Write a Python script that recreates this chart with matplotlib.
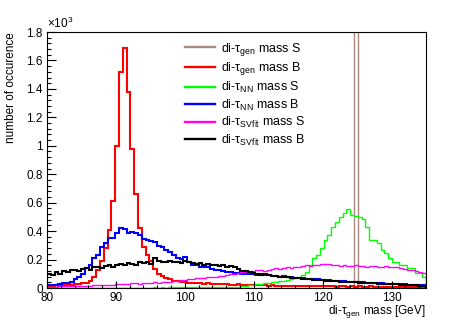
import numpy as np
import matplotlib
matplotlib.use('Agg')
import matplotlib.pyplot as plt
from matplotlib.ticker import MultipleLocator, FuncFormatter

plt.rcParams['font.family'] = ['Liberation Sans', 'DejaVu Sans']
plt.rcParams['mathtext.fontset'] = 'custom'
plt.rcParams['mathtext.rm'] = 'Liberation Sans'
plt.rcParams['mathtext.it'] = 'Liberation Sans:italic'

# binning of the di-tau mass histograms [GeV]
mass_lo, mass_hi, n_bins = 80, 135, 100
edges = np.linspace(mass_lo, mass_hi, n_bins + 1)

# generator level signal: everything in one bin at 125 GeV (goes off scale)
gen_S = [0] * 81 + [20000] + [0] * 18

gen_B = [15, 16, 18, 17, 20, 22, 24, 26, 28, 32,
         38, 48, 75, 125, 190, 280, 410, 610, 1000, 1520,
         1687, 1380, 980, 660, 420, 290, 230, 190, 135, 100,
         85, 70, 60, 52, 48, 45, 40, 38, 35, 36,
         33, 30, 32, 28, 30, 27, 25, 28, 24, 22,
         25, 22, 20, 22, 19, 20, 18, 19, 17, 18,
         16, 17, 15, 16, 14, 15, 13, 15, 14, 12,
         13, 12, 14, 11, 12, 13, 10, 12, 11, 10,
         11, 10, 12, 9, 10, 11, 9, 10, 8, 10,
         9, 8, 10, 8, 9, 7, 8, 9, 7, 8]

NN_S = [1, 1, 2, 1, 2, 1, 2, 2, 1, 2,
        2, 1, 2, 2, 3, 2, 2, 3, 2, 3,
        3, 2, 3, 3, 2, 3, 3, 3, 4, 3,
        4, 3, 4, 4, 5, 4, 5, 5, 4, 5,
        6, 5, 6, 6, 7, 7, 6, 8, 8, 9,
        10, 12, 15, 18, 22, 25, 28, 32, 38, 42,
        45, 48, 52, 58, 65, 72, 80, 91, 115, 162,
        209, 232, 279, 337, 373, 431, 466, 500, 530, 553,
        513, 505, 497, 483, 431, 337, 337, 313, 267, 244,
        209, 186, 186, 162, 162, 138, 138, 103, 103, 80]

NN_B = [20, 21, 24, 28, 33, 38, 45, 60, 75, 95,
        140, 160, 210, 230, 290, 315, 350, 355, 385, 420,
        415, 390, 395, 385, 370, 345, 335, 330, 320, 295,
        285, 265, 250, 230, 210, 205, 215, 185, 165, 160,
        150, 145, 150, 135, 130, 125, 120, 115, 110, 108,
        105, 100, 98, 100, 95, 92, 95, 90, 88, 85,
        85, 80, 82, 78, 75, 72, 70, 68, 65, 66,
        62, 60, 58, 55, 57, 52, 50, 48, 50, 45,
        45, 42, 40, 42, 38, 36, 35, 34, 32, 30,
        30, 28, 27, 26, 25, 24, 22, 23, 20, 20]

SVfit_S = [8, 10, 9, 12, 11, 13, 12, 14, 15, 14,
           17, 16, 18, 20, 19, 22, 24, 22, 26, 28,
           30, 27, 32, 35, 30, 36, 34, 38, 40, 37,
           42, 45, 40, 48, 52, 55, 58, 62, 65, 68,
           70, 72, 75, 78, 80, 82, 85, 88, 95, 100,
           105, 112, 115, 110, 120, 125, 128, 122, 130, 135,
           138, 132, 140, 145, 140, 150, 148, 155, 160, 158,
           165, 162, 170, 168, 172, 165, 160, 158, 165, 155,
           158, 160, 155, 158, 150, 155, 152, 150, 148, 152,
           150, 145, 148, 140, 135, 128, 125, 120, 110, 105]

SVfit_B = [95, 90, 110, 100, 120, 115, 125, 130, 120, 135,
           140, 130, 145, 150, 140, 155, 160, 150, 165, 170,
           160, 175, 170, 165, 180, 175, 185, 170, 210, 190,
           180, 185, 190, 180, 185, 175, 190, 180, 175, 170,
           175, 165, 170, 160, 165, 155, 160, 150, 155, 145,
           135, 120, 118, 112, 105, 100, 92, 95, 88, 85,
           82, 80, 78, 75, 72, 70, 68, 66, 62, 60,
           58, 56, 55, 52, 50, 48, 46, 45, 43, 42,
           40, 42, 38, 36, 35, 34, 32, 30, 30, 28,
           27, 26, 25, 24, 22, 22, 20, 18, 17, 15]

fig = plt.figure(figsize=(4.73, 3.21), dpi=100)
ax = fig.add_axes([0.0994, 0.1028, 0.8012, 0.7975])

hists = [
    (gen_S, '#a88a80', 1.0, r'di-τ$_{\rm gen}$ mass S'),
    (gen_B, '#ff0000', 1.5, r'di-τ$_{\rm gen}$ mass B'),
    (NN_S, '#00ff00', 1.0, r'di-τ$_{\rm NN}$ mass S'),
    (NN_B, '#0000ff', 1.5, r'di-τ$_{\rm NN}$ mass B'),
    (SVfit_S, '#ff00ff', 1.0, r'di-τ$_{\rm SVfit}$ mass S'),
    (SVfit_B, '#000000', 1.5, r'di-τ$_{\rm SVfit}$ mass B'),
]
for vals, col, lw, lab in hists:
    ax.stairs(vals, edges, color=col, linewidth=lw, label=lab, baseline=0)

ax.set_xlim(mass_lo, mass_hi)
ax.set_ylim(0, 1800)

ax.xaxis.set_major_locator(MultipleLocator(10))
ax.xaxis.set_minor_locator(MultipleLocator(2))
ax.yaxis.set_major_locator(MultipleLocator(200))
ax.yaxis.set_minor_locator(MultipleLocator(40))
ax.yaxis.set_major_formatter(FuncFormatter(lambda v, p: '%g' % (v / 1000)))

ax.tick_params(which='both', direction='in', labelsize=8.5, width=0.8,
               top=False, right=False)
ax.tick_params(axis='y', which='major', length=6.5, pad=3)
ax.tick_params(axis='y', which='minor', length=3.2)
ax.tick_params(axis='x', which='major', length=5, pad=3)
ax.tick_params(axis='x', which='minor', length=2.5)
for s in ax.spines.values():
    s.set_linewidth(0.8)

ax.text(0.0, 1.005, r'$\times$10$^{3}$', transform=ax.transAxes,
        fontsize=8.5, ha='left', va='bottom')
ax.set_ylabel('number of occurence', fontsize=8.5, loc='top')
ax.yaxis.set_label_coords(-0.078, 1.0)
ax.set_xlabel(r'di-τ$_{\rm gen}$ mass [GeV]', fontsize=8.5, loc='right')
ax.xaxis.set_label_coords(1.0, -0.06)

leg = ax.legend(loc='upper left', bbox_to_anchor=(0.365, 0.965), frameon=False,
                fontsize=9, handlelength=2.4, handletextpad=0.45,
                labelspacing=0.2, borderpad=0, borderaxespad=0)
for h in leg.get_lines():
    h.set_linewidth(1.7)

fig.savefig('out.png', dpi=100)
